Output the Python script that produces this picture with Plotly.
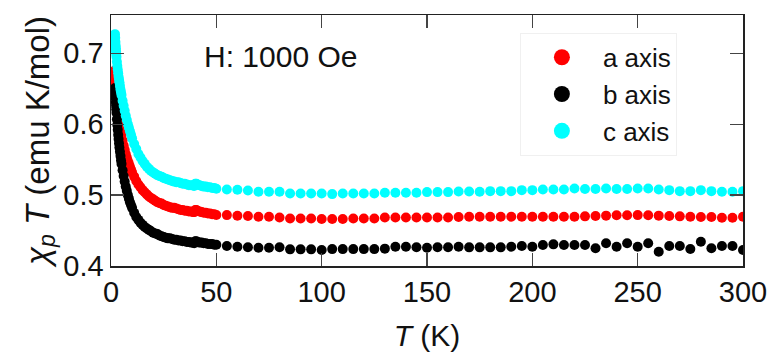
import plotly.graph_objects as go

# ---------------- data ----------------
T_low = [1.9, 2.0, 2.1, 2.2, 2.3, 2.4, 2.5, 2.6, 2.8, 3.0, 3.2, 3.4, 3.6, 3.8, 4.0, 4.25, 4.5, 4.75,
         5.0, 5.5, 6.0, 6.5, 7.0, 7.5, 8.0, 8.5, 9.0, 9.5, 10, 11, 12, 13, 14, 15, 16, 17, 18, 19,
         20, 21, 22, 23, 24, 25, 26, 27, 28, 29, 30, 31, 32, 33, 34, 35, 36, 37, 38, 39, 39.5,
         40, 40.5, 41, 42, 43, 44, 45, 46, 47, 48, 49, 50]

a_low = [0.676, 0.670, 0.664, 0.659, 0.654, 0.650, 0.646, 0.642, 0.635, 0.628, 0.622, 0.617, 0.612,
         0.607, 0.603, 0.598, 0.593, 0.589, 0.585, 0.577, 0.570, 0.564, 0.558, 0.553, 0.548, 0.544,
         0.540, 0.536, 0.532, 0.526, 0.520, 0.515, 0.511, 0.507, 0.504, 0.501, 0.498, 0.496, 0.494,
         0.492, 0.490, 0.489, 0.488, 0.486, 0.485, 0.484, 0.483, 0.482, 0.482, 0.481, 0.480, 0.479,
         0.479, 0.478, 0.478, 0.477, 0.477, 0.476, 0.476, 0.479, 0.479, 0.478, 0.477, 0.476, 0.475,
         0.475, 0.474, 0.474, 0.473, 0.473, 0.472]

b_low = [0.651, 0.648, 0.643, 0.637, 0.631, 0.626, 0.621, 0.616, 0.607, 0.599, 0.592, 0.585, 0.579,
         0.573, 0.567, 0.561, 0.555, 0.549, 0.544, 0.535, 0.527, 0.519, 0.512, 0.506, 0.500, 0.495,
         0.490, 0.486, 0.482, 0.475, 0.469, 0.465, 0.461, 0.458, 0.455, 0.453, 0.451, 0.449, 0.447,
         0.446, 0.445, 0.443, 0.442, 0.441, 0.440, 0.439, 0.439, 0.438, 0.437, 0.437, 0.436, 0.436,
         0.435, 0.435, 0.434, 0.434, 0.433, 0.433, 0.432, 0.435, 0.435, 0.434, 0.433, 0.433, 0.432,
         0.432, 0.431, 0.431, 0.431, 0.430, 0.430]

c_low = [0.727, 0.722, 0.716, 0.711, 0.707, 0.703, 0.699, 0.695, 0.688, 0.682, 0.677, 0.672, 0.667,
         0.663, 0.659, 0.654, 0.649, 0.645, 0.641, 0.633, 0.626, 0.619, 0.612, 0.606, 0.600, 0.595,
         0.590, 0.585, 0.580, 0.572, 0.565, 0.558, 0.553, 0.548, 0.544, 0.540, 0.537, 0.534, 0.532,
         0.530, 0.528, 0.527, 0.526, 0.524, 0.523, 0.522, 0.521, 0.520, 0.519, 0.518, 0.518, 0.517,
         0.516, 0.516, 0.515, 0.514, 0.514, 0.5135, 0.513, 0.516, 0.516, 0.515, 0.514, 0.513, 0.512,
         0.512, 0.511, 0.511, 0.510, 0.510, 0.509]

T_high = [55, 60, 65, 70, 75, 80, 85, 90, 95, 100, 105, 110, 115, 120, 125, 130, 135, 140, 145, 150,
          155, 160, 165, 170, 175, 180, 185, 190, 195, 200, 205, 210, 215, 220, 225, 230, 235, 240,
          245, 250, 255, 260, 265, 270, 275, 280, 285, 290, 295, 300]

a_high = [0.4718, 0.4709, 0.4704, 0.4695, 0.4695, 0.4685, 0.4670, 0.4670, 0.4670, 0.4662, 0.4662,
          0.4662, 0.4670, 0.4670, 0.4670, 0.4685, 0.4685, 0.4685, 0.4685, 0.4685, 0.4685, 0.4685,
          0.4690, 0.4695, 0.4695, 0.4695, 0.4695, 0.4695, 0.4695, 0.4695, 0.4695, 0.4695, 0.4695,
          0.4695, 0.4700, 0.4705, 0.4710, 0.4715, 0.4715, 0.4718, 0.4715, 0.4710, 0.4705, 0.4700,
          0.4695, 0.4690, 0.4690, 0.4680, 0.4680, 0.4695]

b_high = [0.4282, 0.4272, 0.4265, 0.4258, 0.4258, 0.4265, 0.4235, 0.4235, 0.4235, 0.4225, 0.4238,
          0.4238, 0.4238, 0.4238, 0.4238, 0.4245, 0.4272, 0.4272, 0.4265, 0.4258, 0.4265, 0.4265,
          0.4272, 0.4263, 0.4263, 0.4263, 0.4263, 0.4272, 0.4282, 0.4272, 0.4296, 0.4305, 0.4296,
          0.4296, 0.4296, 0.4250, 0.4320, 0.4272, 0.4320, 0.4272, 0.4320, 0.4202, 0.4282, 0.4282,
          0.4240, 0.4343, 0.4250, 0.4282, 0.4282, 0.4225]

c_high = [0.5080, 0.5075, 0.5065, 0.5047, 0.5047, 0.5047, 0.5023, 0.5023, 0.5023, 0.5023, 0.5014,
          0.5023, 0.5023, 0.5023, 0.5023, 0.5033, 0.5033, 0.5033, 0.5033, 0.5042, 0.5042, 0.5042,
          0.5050, 0.5050, 0.5047, 0.5056, 0.5056, 0.5056, 0.5070, 0.5070, 0.5080, 0.5080, 0.5080,
          0.5094, 0.5085, 0.5085, 0.5094, 0.5085, 0.5085, 0.5094, 0.5094, 0.5080, 0.5070, 0.5056,
          0.5056, 0.5070, 0.5056, 0.5047, 0.5047, 0.5056]

series = [("a axis", "#ff0000", a_low, a_high),
          ("b axis", "#000000", b_low, b_high),
          ("c axis", "#00ffff", c_low, c_high)]

x_ticks = [0, 50, 100, 150, 200, 250, 300]
y_ticks = [0.4, 0.5, 0.6, 0.7]

FONT = "Liberation Sans, Arial, Helvetica, sans-serif"

fig = go.Figure()
for name, color, ylo, yhi in series:
    fig.add_trace(go.Scatter(
        x=T_low + T_high, y=ylo + yhi, mode="markers", name=name,
        showlegend=False, hoverinfo="skip",
        marker=dict(color=color, size=10, line=dict(width=0)),
    ))
for name, color, ylo, yhi in series:
    fig.add_trace(go.Scatter(
        x=[None], y=[None], mode="markers", name=name,
        marker=dict(color=color, size=20, line=dict(width=0)),
    ))

axis_common = dict(
    showline=True, linecolor="#222222", linewidth=1.5, mirror="allticks",
    ticks="inside", ticklen=13, tickwidth=1.3, tickcolor="#444444",
    showgrid=False, zeroline=False, automargin=False,
    tickfont=dict(family=FONT, size=29, color="#111111"),
)

fig.update_layout(
    template="none",
    width=769, height=354,
    margin=dict(l=111, r=26, t=15, b=88, autoexpand=False),
    paper_bgcolor="white", plot_bgcolor="white",
    font=dict(family=FONT, color="#111111"),
    xaxis=dict(range=[0, 300], tickvals=x_ticks, ticktext=[str(v) for v in x_ticks],
               title=dict(text="<i>T</i> (K)", font=dict(family=FONT, size=30), standoff=17),
               **axis_common),
    yaxis=dict(range=[0.4, 0.754], tickvals=y_ticks, ticktext=[f"{v:.1f}" for v in y_ticks],
               title=dict(text="<i>χ<sub>p</sub> T</i> (emu K/mol)", font=dict(family=FONT, size=33), standoff=4),
               **axis_common),
    legend=dict(x=0.647, y=0.929, xanchor="left", yanchor="top",
                font=dict(family=FONT, size=26, color="#111111"),
                bgcolor="rgba(255,255,255,0.9)", bordercolor="#f0f0f0", borderwidth=1,
                itemwidth=72),
    annotations=[dict(text="H: 1000 Oe", xref="paper", yref="paper", x=0.144, y=0.833,
                      xanchor="left", yanchor="middle", showarrow=False,
                      font=dict(family=FONT, size=30, color="#111111"))],
)

fig.write_html("out.html", config={"displayModeBar": False, "staticPlot": True},
               post_script="document.body.style.margin='0';document.body.style.overflow='hidden';")
